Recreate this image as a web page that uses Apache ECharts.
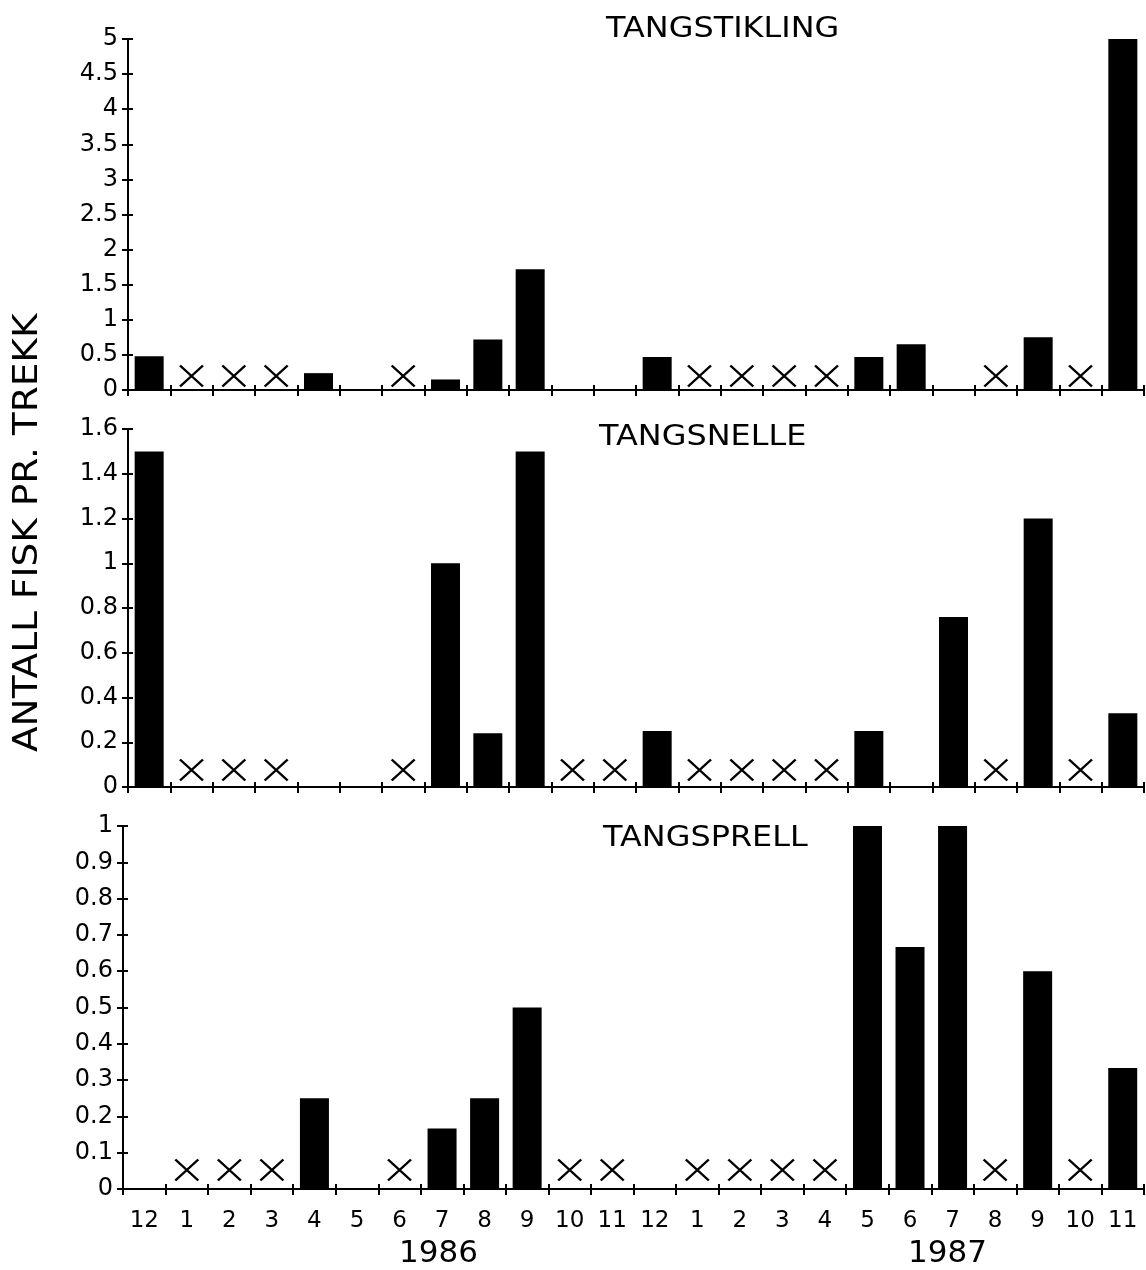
<!DOCTYPE html>
<html>
<head>
<meta charset="utf-8">
<script src="https://cdn.jsdelivr.net/npm/echarts@6/dist/echarts.min.js"></script>
<style>
html, body { margin: 0; background: #fff; }
#main { width: 1146px; height: 1270px; }
</style>
</head>
<body>
<div id="main"></div>
<script>
// months des 1985 - nov 1987
var months = ['12', '1', '2', '3', '4', '5', '6', '7', '8', '9', '10', '11',
              '12', '1', '2', '3', '4', '5', '6', '7', '8', '9', '10', '11'];

// antall fisk pr. trekk
var tangstikling = [0.48, 0, 0, 0, 0.24, 0, 0, 0.15, 0.72, 1.72, 0, 0,
                    0.47, 0, 0, 0, 0, 0.47, 0.65, 0, 0, 0.75, 0, 5.0];
var tangsnelle   = [1.5, 0, 0, 0, 0, 0, 0, 1.0, 0.24, 1.5, 0, 0,
                    0.25, 0, 0, 0, 0, 0.25, 0, 0.76, 0, 1.2, 0, 0.33];
var tangsprell   = [0, 0, 0, 0, 0.25, 0, 0, 0.167, 0.25, 0.5, 0, 0,
                    0, 0, 0, 0, 0, 1.0, 0.667, 1.0, 0, 0.6, 0, 0.333];

// 1 = ingen trekk (X)
var tangstiklingX = [0, 1, 1, 1, 0, 0, 1, 0, 0, 0, 0, 0, 0, 1, 1, 1, 1, 0, 0, 0, 1, 0, 1, 0];
var tangsnelleX   = [0, 1, 1, 1, 0, 0, 1, 0, 0, 0, 1, 1, 0, 1, 1, 1, 1, 0, 0, 0, 1, 0, 1, 0];
var tangsprellX   = [0, 1, 1, 1, 0, 0, 1, 0, 0, 0, 1, 1, 0, 1, 1, 1, 1, 0, 0, 0, 1, 0, 1, 0];

var years = ['1986', '1987'];

var panels = [
  { title: 'TANGSTIKLING', values: tangstikling, missing: tangstiklingX, max: 5, step: 0.5 },
  { title: 'TANGSNELLE', values: tangsnelle, missing: tangsnelleX, max: 1.6, step: 0.2 },
  { title: 'TANGSPRELL', values: tangsprell, missing: tangsprellX, max: 1, step: 0.1 }
];

var FONT = 'DejaVu Sans';
var layout = [
  { left: 128, top: 39, height: 351, xOff: -14, titleX: 606, titleY: 15 },
  { left: 128, top: 429, height: 358, xOff: -17, titleX: 599, titleY: 423 },
  { left: 123, top: 826, height: 363, xOff: -19, titleX: 603, titleY: 824 }
];

var grid = [], xAxis = [], yAxis = [], series = [], graphic = [];

panels.forEach(function (p, i) {
  var l = layout[i];
  grid.push({ left: l.left, right: 2, top: l.top, height: l.height });

  // main axes
  xAxis.push({
    type: 'category', gridIndex: i, data: months,
    axisLine: { onZero: false, lineStyle: { color: '#000', width: 2 } },
    axisTick: { show: true, length: 6, lineStyle: { color: '#000', width: 2 } },
    axisLabel: { show: i === 2, color: '#000', fontFamily: FONT, fontSize: 23, margin: 21 },
    splitLine: { show: false }
  });
  yAxis.push({
    type: 'value', gridIndex: i, min: 0, max: p.max, interval: p.step,
    axisLine: { show: true, lineStyle: { color: '#000', width: 2 } },
    axisTick: { show: true, length: 6, lineStyle: { color: '#000', width: 2 } },
    axisLabel: { color: '#000', fontFamily: FONT, fontSize: 24, margin: 10 },
    splitLine: { show: false }
  });
  // inside ticks so they cross the axis lines
  xAxis.push({
    type: 'category', gridIndex: i, data: months, position: 'bottom',
    axisLine: { show: false, onZero: false },
    axisTick: { show: true, inside: true, length: 5, lineStyle: { color: '#000', width: 2 } },
    axisLabel: { show: false }, splitLine: { show: false }
  });
  yAxis.push({
    type: 'value', gridIndex: i, min: 0, max: p.max, interval: p.step, position: 'left',
    axisLine: { show: false },
    axisTick: { show: true, inside: true, length: 5, lineStyle: { color: '#000', width: 2 } },
    axisLabel: { show: false }, splitLine: { show: false }
  });

  series.push({
    type: 'bar', name: p.title, xAxisIndex: i * 2, yAxisIndex: i * 2,
    data: p.values, barWidth: 29,
    itemStyle: { color: '#000' }, z: 3
  });
  series.push({
    type: 'scatter', xAxisIndex: i * 2, yAxisIndex: i * 2,
    data: p.missing.map(function (m) { return m ? 0 : '-'; }),
    symbol: 'path://M0,0L10,10M10,0L0,10', symbolSize: [23, 21],
    symbolOffset: [0, l.xOff],
    itemStyle: { color: 'transparent', borderColor: '#000', borderWidth: 2.4, opacity: 1 },
    z: 4
  });

  graphic.push({
    type: 'text', x: l.titleX, y: l.titleY, scaleX: 1.1,
    style: { text: p.title, fill: '#000', font: '29px "' + FONT + '"' }
  });
});

graphic.push({
  type: 'text', rotation: Math.PI / 2, x: 12, y: 752, scaleX: 1.135,
  style: { text: 'ANTALL FISK PR. TREKK', fill: '#000', font: '33px "' + FONT + '"' }
});
graphic.push({ type: 'text', left: 399, top: 1238, style: { text: years[0], fill: '#000', font: '31px "' + FONT + '"' } });
graphic.push({ type: 'text', left: 908, top: 1238, style: { text: years[1], fill: '#000', font: '31px "' + FONT + '"' } });

var myChart = echarts.init(document.getElementById('main'));
myChart.setOption({
  animation: false,
  backgroundColor: '#fff',
  grid: grid,
  xAxis: xAxis,
  yAxis: yAxis,
  series: series,
  graphic: graphic
});
</script>
</body>
</html>
